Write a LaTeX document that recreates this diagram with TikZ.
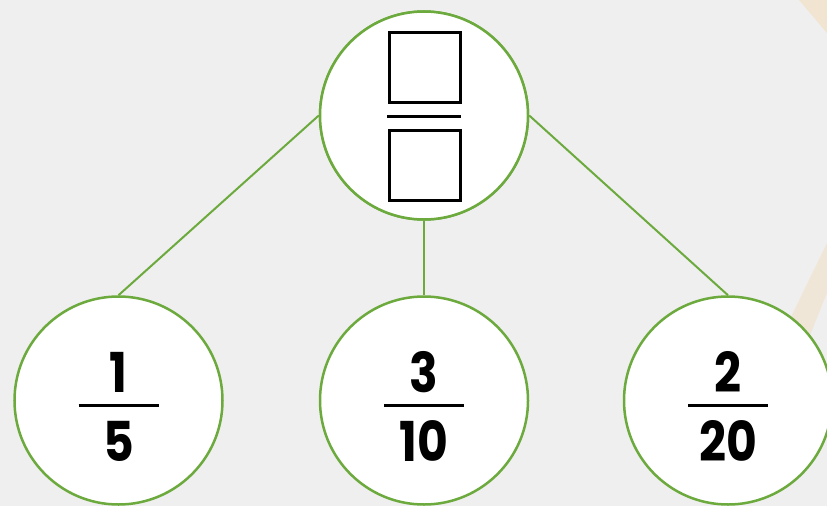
\documentclass[tikz,border=0pt]{standalone}
\usepackage{fontspec}
\setmainfont{Poppins}[UprightFont=* Bold, FakeStretch=0.86]
\definecolor{bg}{HTML}{EFEFEF}
\definecolor{leaf}{HTML}{6CAA3E}
\definecolor{sand}{HTML}{F1E4D1}
\definecolor{sandpale}{HTML}{F0E6D8}
\tikzset{
  bubble/.style={circle, draw=leaf, line width=2.5pt, fill=white, minimum size=208pt, inner sep=0pt},
  link/.style={draw=leaf, line width=2pt},
  digit/.style={font=\fontsize{55}{55}\selectfont, inner sep=0pt, anchor=base},
  bar/.style={line width=3pt, black},
  blank/.style={draw=black, line width=3pt, minimum width=71pt, minimum height=70pt, inner sep=0pt}
}
\begin{document}
\begin{tikzpicture}[x=1pt,y=-1pt]
\fill[bg] (0,0) rectangle (827,506);
\useasboundingbox (0,0) rectangle (827,506);
\fill[sand] (799,0) -- (827,0) -- (827,33) -- cycle;
\fill[sandpale] (770,360) -- (827,243) -- (827,293) -- (800,360) -- cycle;
% circles
\node[bubble] (T) at (424,115.5) {};
\node[bubble] (L) at (118.5,400.5) {};
\node[bubble] (M) at (424,400.5) {};
\node[bubble] (R) at (728,400.5) {};
% connectors
\draw[link] (T.west) -- (L.north);
\draw[link] (T.south) -- (M.north);
\draw[link] (T.east) -- (R.north);
\node[bubble] at (T) {};
% top blanks
\node[blank] (B1) at (425,67.5) {};
\node[blank] (B2) at (425,165) {};
\draw[bar] ([xshift=-37pt,yshift=-0.5pt]T.center) coordinate (tb1) -- ([xshift=37pt,yshift=-0.5pt]T.center) coordinate (tb2);
% fractions
\foreach \c/\n/\d in {L/1/5, M/3/10, R/2/20}{
  \node[digit] (\c n) at ([yshift=8.5pt]\c.center) {\n};
  \node[digit] (\c d) at ([yshift=-60.5pt]\c.center) {\d};
  \draw[bar] ([xshift=-40pt,yshift=-4.5pt]\c.center) -- ([xshift=40pt,yshift=-4.5pt]\c.center);
}
\end{tikzpicture}
\end{document}
